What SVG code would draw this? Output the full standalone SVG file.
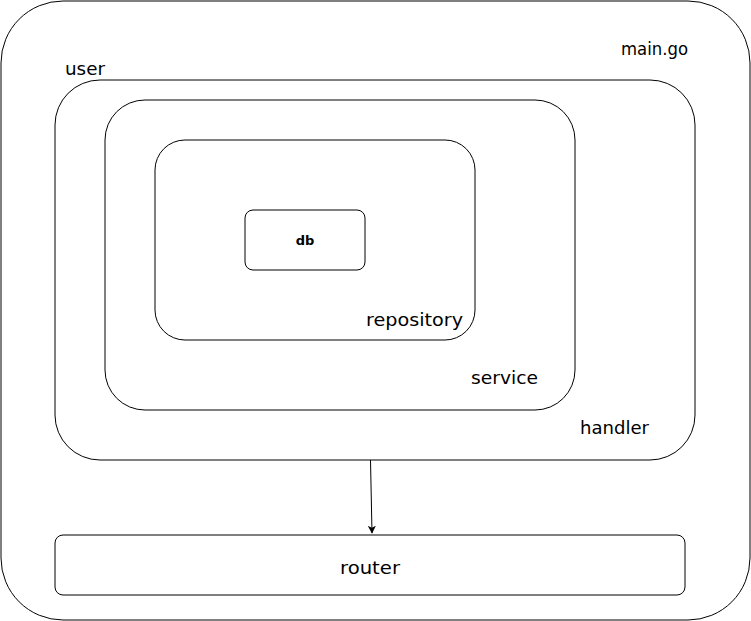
<svg xmlns="http://www.w3.org/2000/svg" width="751" height="621" viewBox="0 0 751 621">
<style>
.box{fill:#fff;stroke:#000;stroke-width:1}
.lbl{font-family:"DejaVu Sans","Liberation Sans",sans-serif;font-size:18.5px;fill:#000}
.db{font-family:"DejaVu Sans","Liberation Sans",sans-serif;font-size:13px;font-weight:bold;fill:#000}
.edge{stroke:#000;stroke-width:1;fill:none}
</style>
<defs>
<marker id="arr" viewBox="0 0 10 10" refX="9" refY="5" markerWidth="8" markerHeight="8" markerUnits="userSpaceOnUse" orient="auto">
<path d="M0,0 L10,5 L0,10 L2.5,5 Z" fill="#000"/>
</marker>
</defs>
<g id="main">
<rect class="box" x="1" y="1" width="749" height="619" rx="62" ry="62"/>
<text class="lbl" x="621" y="55" textLength="67" lengthAdjust="spacingAndGlyphs">main.go</text>
</g>
<g id="user">
<rect class="box" x="55" y="80" width="640" height="380" rx="45" ry="45"/>
<text class="lbl" x="65" y="75" textLength="40" lengthAdjust="spacingAndGlyphs">user</text>
<text class="lbl" x="580" y="434" textLength="69" lengthAdjust="spacingAndGlyphs">handler</text>
</g>
<g id="service">
<rect class="box" x="105" y="100" width="470" height="310" rx="40" ry="40"/>
<text class="lbl" x="471" y="384" textLength="67" lengthAdjust="spacingAndGlyphs">service</text>
</g>
<g id="repository">
<rect class="box" x="155" y="140" width="320" height="200" rx="30" ry="30"/>
<text class="lbl" x="366" y="326" textLength="97" lengthAdjust="spacingAndGlyphs">repository</text>
</g>
<g id="db">
<rect class="box" x="245" y="210" width="120" height="60" rx="8" ry="8"/>
<text class="db" x="305" y="245" text-anchor="middle">db</text>
</g>
<g id="router">
<rect class="box" x="55" y="535" width="630" height="60" rx="8" ry="8"/>
<text class="lbl" x="340" y="574" textLength="60" lengthAdjust="spacingAndGlyphs">router</text>
</g>
<g id="connectors">
<path class="edge" d="M370.5,460 L372,533" marker-end="url(#arr)"/>
</g>
</svg>
